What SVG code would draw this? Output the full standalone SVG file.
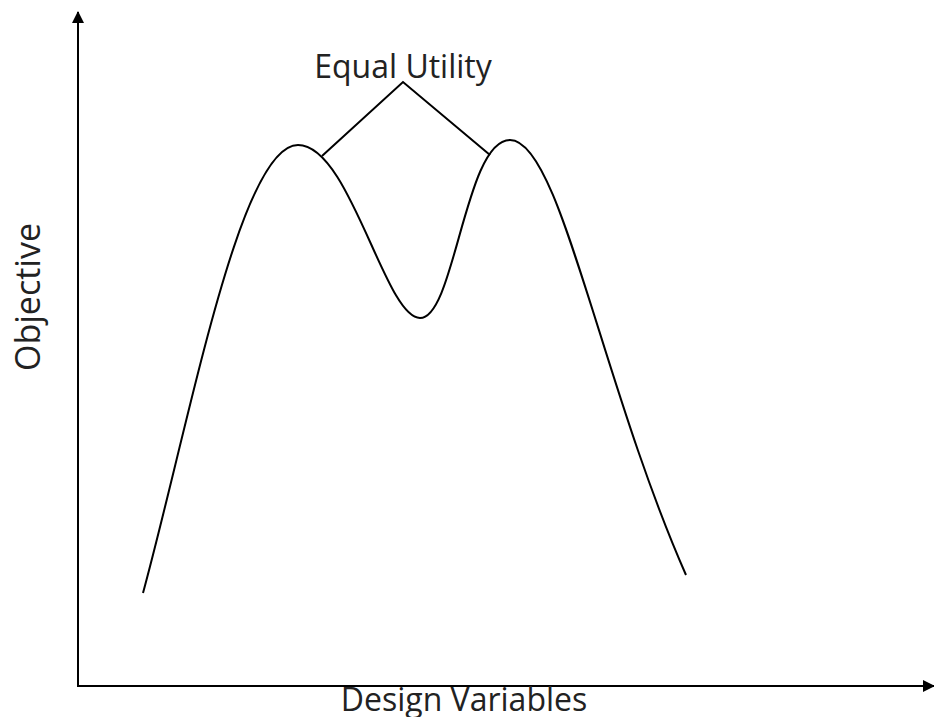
<svg xmlns="http://www.w3.org/2000/svg" width="934" height="717" viewBox="0 0 934 717">
<defs>
<marker id="arr" markerWidth="12" markerHeight="12" refX="11" refY="6" orient="auto" markerUnits="userSpaceOnUse">
<path d="M0,0 L12,6 L0,12 Z" fill="#000"/>
</marker>
<style>
.ln{stroke:#000;stroke-width:2;fill:none}
.t{font-family:"Open Sans","Liberation Sans",sans-serif;fill:#222}
</style>
</defs>
<rect width="934" height="717" fill="#fff"/>
<g id="connectors">
<line class="ln" x1="78" y1="687" x2="78" y2="12" marker-end="url(#arr)"/>
<line class="ln" x1="77" y1="686" x2="934" y2="686" marker-end="url(#arr)"/>
<path class="ln" d="M322,156 L403,82 L490,155"/>
</g>
<g id="curve">
<path class="ln" d="M143,593 C190,420 240,145 298,145 C350,145 385,318 420,318 C455,318 465,140 510,140 C560,140 600,380 686,575"/>
</g>
<g id="label-equal">
<text class="t" x="403" y="78" font-size="32" text-anchor="middle">Equal Utility</text>
</g>
<g id="label-x">
<text class="t" x="464" y="711" font-size="32" text-anchor="middle">Design Variables</text>
</g>
<g id="label-y">
<text class="t" transform="translate(40,297) rotate(-90)" font-size="34" text-anchor="middle">Objective</text>
</g>
</svg>
